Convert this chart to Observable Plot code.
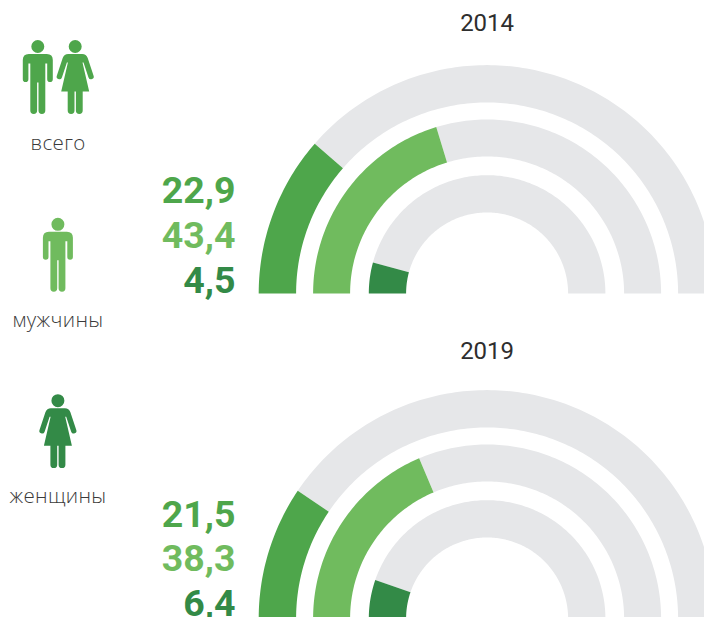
<!DOCTYPE html>
<html lang="ru">
<head>
<meta charset="utf-8">
<script src="https://cdn.jsdelivr.net/npm/d3@7"></script>
<script src="https://cdn.jsdelivr.net/npm/@observablehq/plot@0.6"></script>
<style>
html,body{margin:0;padding:0;background:#fff;overflow:hidden}
svg{display:block}
.group-label text{font-family:"Open Sans",sans-serif;font-weight:300;letter-spacing:.35px}
</style>
</head>
<body>
<div id="chart"></div>
<script>
const years = ["2014", "2019"];
const groups = ["всего", "мужчины", "женщины"];
const groupColors = ["#4ea64b", "#70bb5e", "#338a47"];
const trackName = "фон";
const trackColor = "#e6e7e9";
const values2014 = [22.9, 43.4, 4.5];
const values2019 = [21.5, 38.3, 6.4];
// filled sweep of each half ring, degrees of the 180° track
const sweep2014 = [41, 73, 15.2];
const sweep2019 = [34, 67, 19];

const W = 704, H = 617;
const centerX = 486.6;
const baselines = [293, 618];
const yearY = [30.5, 358.5];
const rings = [[191, 228.4], [137, 174], [81, 118.3]];
const valueRightX = 235;
const valueY = [[202, 247, 292], [526, 570.5, 615]];
const iconX = [37.3, 74.7, 57.4, 57.4];
const iconY = [46, 46, 223.8, 400.2];
const iconKinds = ["man", "woman", "man", "woman"];
const iconGroups = ["всего", "всего", "мужчины", "женщины"];
const labelX = [57.5, 57.5, 57.5];
const labelY = [149, 326.5, 502.5];

function ringPolygon(id, group, baseY, inner, outer, fromDeg, toDeg) {
  const pts = [];
  const at = (r, deg) => {
    const a = deg * Math.PI / 180;
    pts.push({id, group, px: centerX - r * Math.cos(a), py: baseY - r * Math.sin(a)});
  };
  const n = Math.ceil(toDeg - fromDeg);
  for (let i = 0; i <= n; ++i) at(outer, fromDeg + (toDeg - fromDeg) * i / n);
  for (let i = n; i >= 0; --i) at(inner, fromDeg + (toDeg - fromDeg) * i / n);
  return pts;
}

const sweeps = [sweep2014, sweep2019];
const arcs = [];
sweeps.forEach((s, yi) => s.forEach((deg, gi) => {
  const [ri, ro] = rings[gi];
  arcs.push(...ringPolygon(`t${yi}${gi}`, trackName, baselines[yi], ri, ro, deg, 180));
  arcs.push(...ringPolygon(`v${yi}${gi}`, groups[gi], baselines[yi], ri, ro, 0, deg));
}));

const valueRows = [values2014, values2019].flatMap((vals, yi) => vals.map((v, gi) => ({
  text: v.toFixed(1).replace(".", ","),
  group: groups[gi],
  y: valueY[yi][gi]
})));
const yearRows = years.map((t, i) => ({t, y: yearY[i]}));
const labelRows = groups.map((t, i) => ({t, x: labelX[i], y: labelY[i]}));
const icons = iconKinds.map((kind, i) => ({kind, group: iconGroups[i], x: iconX[i], y: iconY[i]}));

function head(c) { c.moveTo(6.5, 0); c.arc(0, 0, 6.5, 0, 2 * Math.PI); c.closePath(); }
const man = {draw(c) {
  head(c);
  c.moveTo(-9, 7.5); c.lineTo(9, 7.5);
  c.quadraticCurveTo(15, 7.5, 15, 13.5);
  c.lineTo(15, 32.7); c.arc(12.2, 32.7, 2.8, 0, Math.PI);
  c.lineTo(9.4, 17); c.lineTo(7.5, 17);
  c.lineTo(7.5, 64); c.arc(4.1, 64, 3.4, 0, Math.PI);
  c.lineTo(0.7, 36); c.lineTo(-0.7, 36);
  c.lineTo(-0.7, 64); c.arc(-4.1, 64, 3.4, 0, Math.PI);
  c.lineTo(-7.5, 17); c.lineTo(-9.4, 17);
  c.lineTo(-9.4, 32.7); c.arc(-12.2, 32.7, 2.8, 0, Math.PI);
  c.lineTo(-15, 13.5);
  c.quadraticCurveTo(-15, 7.5, -9, 7.5);
  c.closePath();
}};
const woman = {draw(c) {
  head(c);
  c.moveTo(-7, 7.5); c.lineTo(7, 7.5);
  c.quadraticCurveTo(11, 7.5, 12.5, 11.5);
  c.lineTo(18.3, 29); c.arc(15.8, 30, 2.7, -0.38, Math.PI - 0.38);
  c.lineTo(8.3, 16); c.lineTo(7.3, 16);
  c.lineTo(14, 45); c.lineTo(7.5, 45);
  c.lineTo(7.5, 64); c.arc(4.1, 64, 3.4, 0, Math.PI);
  c.lineTo(0.7, 45); c.lineTo(-0.7, 45);
  c.lineTo(-0.7, 64); c.arc(-4.1, 64, 3.4, 0, Math.PI);
  c.lineTo(-7.5, 45); c.lineTo(-14, 45);
  c.lineTo(-7.3, 16); c.lineTo(-8.3, 16);
  c.lineTo(-13.3, 31); c.arc(-15.8, 30, 2.7, 0.38, Math.PI + 0.38);
  c.lineTo(-12.5, 11.5);
  c.quadraticCurveTo(-11, 7.5, -7, 7.5);
  c.closePath();
}};

const plot = Plot.plot({
  width: W, height: H,
  margin: 0,
  style: {fontFamily: "Roboto, sans-serif", background: "#fff"},
  x: {domain: [0, W], range: [0, W], axis: null},
  y: {domain: [0, H], range: [0, H], axis: null},
  color: {domain: [...groups, trackName], range: [...groupColors, trackColor]},
  marks: [
    Plot.line(arcs, {x: "px", y: "py", z: "id", fill: "group", stroke: null, curve: "linear", clip: true}),
    Plot.dot(icons.filter(d => d.kind === "man"), {x: "x", y: "y", r: 10, fill: "group", symbol: man}),
    Plot.dot(icons.filter(d => d.kind === "woman"), {x: "x", y: "y", r: 10, fill: "group", symbol: woman}),
    Plot.text(valueRows, {x: valueRightX, y: "y", text: "text", fill: "group", textAnchor: "end", lineAnchor: "bottom", fontSize: 37.5, fontWeight: 700, clip: true}),
    Plot.text(yearRows, {x: centerX, y: "y", text: "t", fill: "#2e2e2e", textAnchor: "middle", lineAnchor: "bottom", fontSize: 24}),
    Plot.text(labelRows, {x: "x", y: "y", text: "t", fill: "#3a3a3a", textAnchor: "middle", lineAnchor: "bottom", fontSize: 20.5, className: "group-label"})
  ]
});
document.getElementById("chart").append(plot);
</script>
</body>
</html>
